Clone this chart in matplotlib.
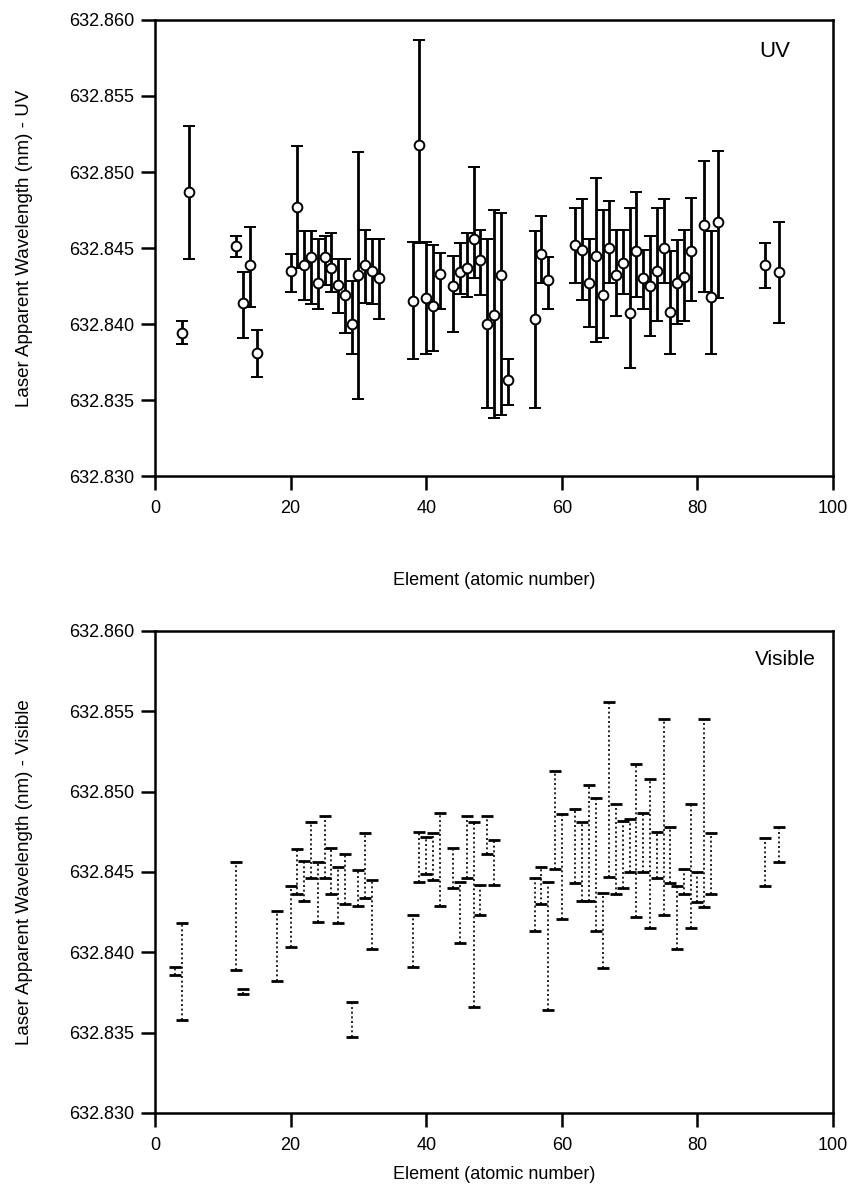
import matplotlib
matplotlib.use("Agg")
import matplotlib.pyplot as plt
import numpy as np

plt.rcParams['font.family'] = ['Liberation Sans', 'DejaVu Sans']

# ---------------- UV panel data ----------------
uv_z = [4, 5, 12, 13, 14, 15, 20, 21, 22, 23, 24, 25, 26, 27, 28, 29, 30, 31, 32, 33,
        38, 39, 40, 41, 42, 44, 45, 46, 47, 48, 49, 50, 51, 52, 56, 57, 58,
        62, 63, 64, 65, 66, 67, 68, 69, 70, 71, 72, 73, 74, 75, 76, 77, 78, 79,
        81, 82, 83, 90, 92]
uv_val = [632.8394, 632.8487, 632.8451, 632.8414, 632.8439, 632.8381, 632.8435, 632.8477,
          632.8439, 632.8444, 632.8427, 632.8444, 632.8437, 632.8426, 632.8419, 632.8400,
          632.8432, 632.8439, 632.8435, 632.8430,
          632.8415, 632.8518, 632.8417, 632.8412, 632.8433, 632.8425, 632.8434, 632.8437,
          632.8456, 632.8442, 632.8400, 632.8406, 632.8432, 632.8363, 632.8403, 632.8446,
          632.8429,
          632.8452, 632.8449, 632.8427, 632.8445, 632.8419, 632.8450, 632.8432, 632.8440,
          632.8407, 632.8448, 632.8430, 632.8425, 632.8435, 632.8450, 632.8408, 632.8427,
          632.8431, 632.8448, 632.8465, 632.8418, 632.8467, 632.8439, 632.8434]
uv_hi = [632.8402, 632.8530, 632.8458, 632.8434, 632.8464, 632.8396, 632.8446, 632.8517,
         632.8461, 632.8461, 632.8456, 632.8458, 632.8460, 632.8443, 632.8443, 632.8428,
         632.8513, 632.8462, 632.8456, 632.8456,
         632.8454, 632.8587, 632.8454, 632.8452, 632.8447, 632.8445, 632.8453, 632.8460,
         632.8503, 632.8462, 632.8456, 632.8475, 632.8473, 632.8377, 632.8461, 632.8471,
         632.8444,
         632.8476, 632.8482, 632.8456, 632.8496, 632.8475, 632.8481, 632.8462, 632.8462,
         632.8476, 632.8487, 632.8449, 632.8458, 632.8476, 632.8482, 632.8448, 632.8455,
         632.8462, 632.8483, 632.8507, 632.8461, 632.8514, 632.8453, 632.8467]
uv_lo = [632.8387, 632.8443, 632.8444, 632.8391, 632.8411, 632.8365, 632.8421, 632.8437,
         632.8416, 632.8413, 632.8410, 632.8426, 632.8421, 632.8407, 632.8394, 632.8380,
         632.8351, 632.8414, 632.8413, 632.8403,
         632.8377, 632.8453, 632.8380, 632.8382, 632.8410, 632.8395, 632.8420, 632.8418,
         632.8430, 632.8419, 632.8345, 632.8338, 632.8340, 632.8347, 632.8345, 632.8427,
         632.8410,
         632.8427, 632.8416, 632.8398, 632.8388, 632.8391, 632.8427, 632.8405, 632.8420,
         632.8371, 632.8418, 632.8410, 632.8392, 632.8402, 632.8427, 632.8380, 632.8400,
         632.8402, 632.8415, 632.8421, 632.8380, 632.8417, 632.8424, 632.8401]

# ---------------- Visible panel data ----------------
vis_z = [3, 4, 12, 13, 18, 20, 21, 22, 23, 24, 25, 26, 27, 28, 29, 30, 31, 32,
         38, 39, 40, 41, 42, 44, 45, 46, 47, 48, 49, 50,
         56, 57, 58, 59, 60, 62, 63, 64, 65, 66, 67, 68, 69, 70, 71, 72, 73, 74,
         75, 76, 77, 78, 79, 80, 81, 82, 90, 92]
vis_lo = [632.8386, 632.8358, 632.8389, 632.8374, 632.8382, 632.8403, 632.8436, 632.8432,
          632.8446, 632.8419, 632.8446, 632.8436, 632.8418, 632.8430, 632.8347, 632.8429,
          632.8434, 632.8402,
          632.8391, 632.8444, 632.8449, 632.8445, 632.8429, 632.8440, 632.8406, 632.8446,
          632.8366, 632.8423, 632.8461, 632.8442,
          632.8413, 632.8430, 632.8364, 632.8452, 632.8421, 632.8443, 632.8432, 632.8432,
          632.8413, 632.8390, 632.8447, 632.8436, 632.8440, 632.8450, 632.8422, 632.8450,
          632.8415, 632.8446, 632.8423, 632.8443, 632.8402, 632.8436, 632.8415, 632.8431,
          632.8428, 632.8436, 632.8441, 632.8456]
vis_hi = [632.8391, 632.8418, 632.8456, 632.8377, 632.8426, 632.8441, 632.8464, 632.8457,
          632.8481, 632.8456, 632.8485, 632.8465, 632.8453, 632.8461, 632.8369, 632.8451,
          632.8474, 632.8445,
          632.8423, 632.8475, 632.8472, 632.8474, 632.8487, 632.8465, 632.8444, 632.8485,
          632.8481, 632.8442, 632.8485, 632.8470,
          632.8446, 632.8453, 632.8444, 632.8513, 632.8486, 632.8489, 632.8481, 632.8504,
          632.8496, 632.8437, 632.8556, 632.8492, 632.8482, 632.8483, 632.8517, 632.8487,
          632.8508, 632.8475, 632.8545, 632.8478, 632.8441, 632.8452, 632.8492, 632.8450,
          632.8545, 632.8474, 632.8471, 632.8478]

x_ticks = [0, 20, 40, 60, 80, 100]
y_ticks = [632.830, 632.835, 632.840, 632.845, 632.850, 632.855, 632.860]

fig = plt.figure(figsize=(8.55, 11.97), dpi=100)
ax1 = fig.add_axes([0.1813, 0.6023, 0.7930, 0.381])
ax2 = fig.add_axes([0.1813, 0.0702, 0.7930, 0.4027])

FS = 13

def style(ax, ylabel, tag, tag_x, tag_y, tag_fs, labelpad):
    ax.set_xlim(0, 100)
    ax.set_ylim(632.830, 632.860)
    ax.set_xticks(x_ticks)
    ax.set_yticks(y_ticks)
    ax.set_yticklabels(['%.3f' % v for v in y_ticks])
    ax.tick_params(direction='out', length=10, width=1.8, labelsize=FS,
                   top=False, right=False)
    ax.tick_params(axis='y', pad=5)
    ax.tick_params(axis='x', pad=7)
    for s in ax.spines.values():
        s.set_linewidth(1.8)
    ax.set_xlabel('Element (atomic number)', fontsize=FS, labelpad=labelpad)
    ax.set_ylabel(ylabel, fontsize=13.5, labelpad=26)
    ax.text(tag_x, tag_y, tag, transform=ax.transAxes, ha='right', va='center',
            fontsize=tag_fs)

# UV panel
uv_val_a = np.array(uv_val)
yerr = [uv_val_a - np.array(uv_lo), np.array(uv_hi) - uv_val_a]
ax1.errorbar(uv_z, uv_val_a, yerr=yerr, fmt='o', color='black', ecolor='black',
             elinewidth=2.0, capsize=4.5, capthick=2.2, markersize=7,
             markerfacecolor='white', markeredgecolor='black', markeredgewidth=1.4, zorder=3)
style(ax1, 'Laser Apparent Wavelength (nm) - UV', 'UV', 0.937, 0.93, 16, 40)

# Visible panel
ax2.vlines(vis_z, vis_lo, vis_hi, colors='black', linestyles=(0, (1.2, 1.6)), linewidth=1.2)
ax2.plot(vis_z, vis_lo, linestyle='none', marker='_', markersize=9, markeredgewidth=2.0,
         color='black')
ax2.plot(vis_z, vis_hi, linestyle='none', marker='_', markersize=9, markeredgewidth=2.0,
         color='black')
style(ax2, 'Laser Apparent Wavelength (nm) - Visible', 'Visible', 0.975, 0.94, 15, 9)

fig.savefig('out.png', dpi=100)
